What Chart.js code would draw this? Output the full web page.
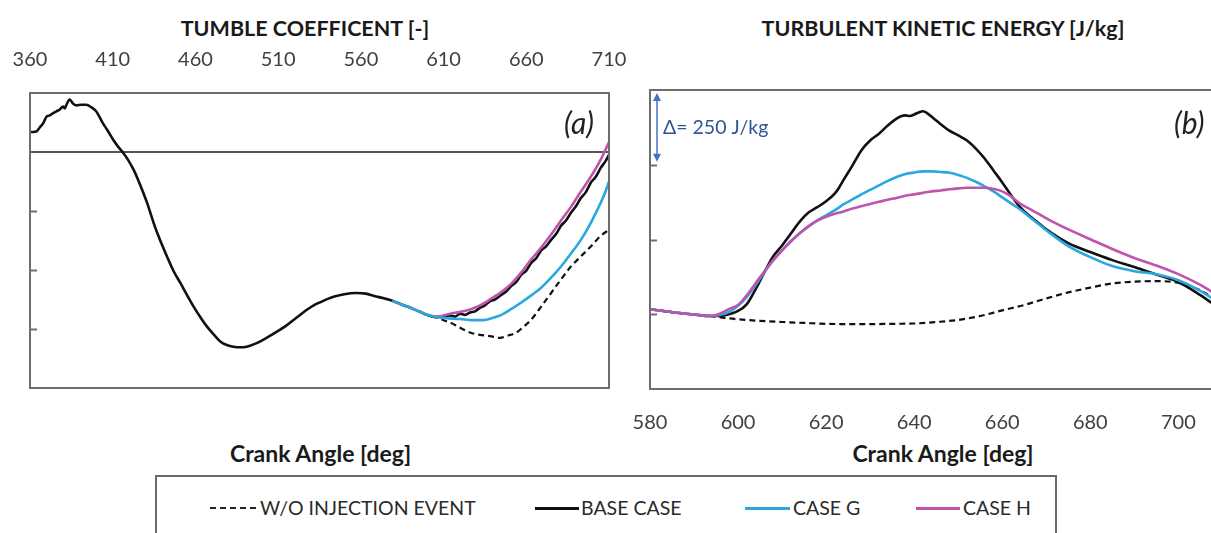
<!DOCTYPE html>
<html>
<head>
<meta charset="utf-8">
<script src="https://cdn.jsdelivr.net/npm/chart.js@4.4.0/dist/chart.umd.min.js"></script>
<style>
  body { margin: 0; width: 1211px; height: 533px; overflow: hidden; position: relative; background: #fff; font-family: Lato, "Open Sans", sans-serif; color: #1a1a1a; }
  .abs { position: absolute; white-space: nowrap; line-height: 26px; }
  .ttl { font-weight: bold; font-size: 21.5px; }
  .panel { position: absolute; top: 0; }
  #legend { position: absolute; left: 155px; top: 475px; width: 898px; height: 80px; border: 2px solid #6a6a6a; }
  .sw { position: absolute; top: 30px; height: 0; }
  .lt { position: absolute; top: 18px; font-size: 19.5px; color: #2a2a2a; line-height: 26px; }
</style>
</head>
<body>
<div class="abs ttl" style="left:0; width:610px; text-align:center; top:15px;">TUMBLE COEFFICENT [-]</div>
<div class="abs ttl" style="left:640px; width:606px; text-align:center; top:15px;">TURBULENT KINETIC ENERGY [J/kg]</div>
<div class="abs ttl" style="left:230px; top:440px; font-size:23px;">Crank Angle [deg]</div>
<div class="abs ttl" style="left:640px; width:606px; text-align:center; top:440px; font-size:23px;">Crank Angle [deg]</div>

<div class="panel" style="left:0;"><canvas id="chartA" width="640" height="400"></canvas></div>
<div class="panel" style="left:620px;"><canvas id="chartB" width="640" height="440"></canvas></div>

<div class="abs" style="left:564px; top:106px; font-size:30px; font-style:italic; line-height:32px; color:#222;">(a)</div>
<div class="abs" style="left:1174px; top:106px; font-size:30px; font-style:italic; line-height:32px; color:#222;">(b)</div>
<div class="abs" style="left:663px; top:114px; font-size:19.5px; color:#2f5597;">&Delta;= 250 J/kg</div>

<div id="legend">
  <div class="sw" style="left:53px; width:46px; border-top:2px dashed #222;"></div>
  <div class="lt" style="left:103px;">W/O INJECTION EVENT</div>
  <div class="sw" style="left:378px; width:44px; border-top:3px solid #111;"></div>
  <div class="lt" style="left:424px;">BASE CASE</div>
  <div class="sw" style="left:588px; width:45px; border-top:3px solid #29a8e0;"></div>
  <div class="lt" style="left:636px;">CASE G</div>
  <div class="sw" style="left:759px; width:44px; border-top:3px solid #c053ad;"></div>
  <div class="lt" style="left:806px;">CASE H</div>
</div>

<script>
// (a) tumble coefficient, top axis ticks
const tumbleTicks = [360, 410, 460, 510, 560, 610, 660, 710];

const tumbleBaseAngle = [360, 362, 364, 366, 368, 370, 372, 374, 376, 378, 380, 381, 382, 384, 385, 386, 388, 391, 394, 397, 400, 404, 407, 410, 413, 416.5, 419, 422.6, 425, 428.6, 431, 434.7, 438, 442.8, 447, 450.9, 455, 458.9, 463, 467, 471, 475, 479, 483, 487, 491, 497, 503, 509, 515.5, 521, 527.6, 532, 536, 540, 544, 550, 557, 563, 568, 574, 579, 585, 590, 595, 600, 606, 610, 614, 617, 620, 623, 626, 629, 632, 635, 638, 641, 645, 648, 651, 654, 657, 660, 663, 666, 669, 672, 675, 678, 681, 684, 687, 690, 693, 696, 699, 702, 705, 708, 710];
const tumbleBaseValue = [0.34, 0.34, 0.35, 0.42, 0.49, 0.60, 0.62, 0.66, 0.69, 0.72, 0.77, 0.74, 0.80, 0.89, 0.86, 0.82, 0.79, 0.80, 0.80, 0.76, 0.69, 0.49, 0.36, 0.22, 0.10, -0.02, -0.12, -0.30, -0.45, -0.70, -0.88, -1.20, -1.45, -1.77, -2.03, -2.22, -2.43, -2.62, -2.80, -2.96, -3.09, -3.21, -3.27, -3.30, -3.31, -3.30, -3.24, -3.15, -3.05, -2.93, -2.81, -2.67, -2.59, -2.54, -2.49, -2.45, -2.41, -2.39, -2.40, -2.44, -2.48, -2.52, -2.59, -2.64, -2.70, -2.76, -2.80, -2.78, -2.77, -2.79, -2.74, -2.76, -2.72, -2.70, -2.64, -2.60, -2.53, -2.50, -2.42, -2.36, -2.27, -2.20, -2.08, -2.01, -1.88, -1.80, -1.67, -1.60, -1.49, -1.39, -1.25, -1.16, -1.03, -0.92, -0.78, -0.68, -0.52, -0.42, -0.27, -0.15, -0.05];

const tumbleNoInjAngle = [603, 606, 610, 614, 620, 626, 632, 638, 644, 649, 654, 658, 663, 669, 675, 681, 687, 693, 699, 705, 710];
const tumbleNoInjValue = [-2.78, -2.80, -2.85, -2.89, -2.98, -3.06, -3.10, -3.12, -3.15, -3.11, -3.06, -2.97, -2.84, -2.62, -2.39, -2.16, -1.94, -1.77, -1.60, -1.42, -1.32];

const tumbleGAngle = [579, 585, 590, 595, 600, 606, 613, 620, 627, 634, 640, 645, 651, 657, 663, 669, 675, 681, 687, 693, 699, 705, 708, 710];
const tumbleGValue = [-2.52, -2.59, -2.64, -2.70, -2.76, -2.80, -2.82, -2.83, -2.85, -2.85, -2.81, -2.76, -2.66, -2.55, -2.43, -2.30, -2.13, -1.94, -1.72, -1.49, -1.20, -0.86, -0.66, -0.50];

const tumbleHAngle = [603, 606, 614, 620, 626, 632, 638, 645, 651, 657, 663, 669, 675, 681, 687, 693, 699, 705, 710];
const tumbleHValue = [-2.78, -2.79, -2.74, -2.71, -2.67, -2.60, -2.50, -2.37, -2.23, -2.04, -1.82, -1.62, -1.40, -1.16, -0.93, -0.67, -0.42, -0.13, 0.17];

// (b) turbulent kinetic energy [J/kg], bottom axis ticks
const tkeTicks = [580, 600, 620, 640, 660, 680, 700];

const tkeNoInjAngle = [580, 583, 586, 590, 594, 597, 600, 605, 610, 615, 620, 625, 630, 635, 640, 645, 650, 655, 660, 665, 670, 675, 680, 685, 690, 695, 700, 705, 710, 714];
const tkeNoInjValue = [267, 261, 255, 249, 244, 238, 233, 228, 224, 221, 218, 217, 217, 218, 219, 224, 231, 244, 263, 281, 303, 323, 339, 353, 359, 361, 355, 330, 285, 250];

const tkeBaseAngle = [580, 583, 586, 590, 594, 597, 600, 602, 604, 606, 608, 610, 612, 614, 616, 618, 620, 622, 623, 624, 626, 628, 630, 632, 634, 636, 637, 638, 639, 640, 641, 642, 643, 645, 648, 650, 652, 654, 656, 658, 660, 662, 664, 666, 668, 670, 675, 680, 685, 690, 695, 700, 705, 710, 714];
const tkeBaseValue = [267, 261, 255, 249, 244, 247, 261, 284, 334, 391, 444, 480, 520, 560, 590, 608, 628, 654, 675, 700, 748, 798, 831, 854, 881, 904, 912, 915, 913, 918, 925, 929, 922, 898, 864, 848, 831, 804, 771, 731, 691, 648, 609, 581, 558, 534, 488, 458, 431, 408, 383, 358, 314, 264, 230];

const tkeGAngle = [580, 583, 586, 590, 594, 596, 598, 600, 602, 604, 606, 608, 610, 612, 614, 616, 618, 620, 622, 624, 626, 628, 630, 632, 634, 636, 638, 640, 642, 644, 646, 648, 650, 652, 654, 656, 658, 660, 662, 664, 666, 668, 670, 675, 680, 685, 690, 695, 700, 705, 710, 714];
const tkeGValue = [267, 261, 255, 249, 244, 248, 258, 278, 308, 348, 391, 431, 464, 494, 521, 544, 564, 581, 598, 618, 634, 651, 666, 681, 696, 709, 719, 724, 728, 728, 726, 723, 716, 706, 693, 678, 661, 641, 621, 601, 578, 554, 531, 478, 441, 411, 394, 384, 364, 328, 281, 250];

const tkeHAngle = [580, 583, 586, 590, 594, 596, 598, 600, 602, 604, 606, 608, 610, 612, 614, 616, 618, 620, 622, 624, 626, 628, 630, 632, 634, 636, 638, 640, 642, 644, 646, 648, 650, 652, 654, 656, 658, 660, 662, 664, 666, 668, 670, 675, 680, 685, 690, 695, 700, 705, 710, 714];
const tkeHValue = [267, 261, 255, 249, 244, 253, 268, 281, 314, 354, 394, 431, 464, 494, 521, 544, 563, 576, 586, 594, 604, 611, 619, 626, 633, 639, 646, 651, 656, 661, 664, 668, 671, 673, 673, 673, 669, 661, 644, 621, 604, 588, 571, 534, 501, 468, 438, 413, 384, 348, 304, 275];

const pts = (xs, ys) => xs.map((x, i) => ({ x: x, y: ys[i] }));

// frame round the plot area, short inner ticks on the left side, optional delta arrow
const framePlugin = {
  id: 'frame',
  afterDatasetsDraw(chart, args, opts) {
    const ctx = chart.ctx;
    const a = chart.chartArea;
    const ys = chart.scales.y;
    ctx.save();
    ctx.strokeStyle = '#6e6e6e';
    ctx.lineWidth = 2;
    ctx.strokeRect(a.left, a.top, a.right - a.left, a.bottom - a.top);
    ctx.beginPath();
    opts.ticks.forEach(v => {
      const py = Math.round(ys.getPixelForValue(v)) + 0.5;
      ctx.moveTo(a.left, py);
      ctx.lineTo(a.left + 7, py);
    });
    ctx.stroke();
    if (opts.arrow) {
      const x = a.left + 7;
      const y1 = ys.getPixelForValue(opts.arrow[0]) + 3;
      const y2 = ys.getPixelForValue(opts.arrow[1]) - 3;
      ctx.strokeStyle = '#4472c4';
      ctx.fillStyle = '#4472c4';
      ctx.lineWidth = 1.5;
      ctx.beginPath();
      ctx.moveTo(x, y1 + 6);
      ctx.lineTo(x, y2 - 6);
      ctx.stroke();
      ctx.beginPath();
      ctx.moveTo(x, y1); ctx.lineTo(x - 4, y1 + 8); ctx.lineTo(x + 4, y1 + 8); ctx.closePath();
      ctx.moveTo(x, y2); ctx.lineTo(x - 4, y2 - 8); ctx.lineTo(x + 4, y2 - 8); ctx.closePath();
      ctx.fill();
    }
    ctx.restore();
  }
};

const tickFont = { family: 'Lato', size: 20 };

// keep the plot area where the frame is, whatever the width of the end labels
const noSidePad = s => { s.paddingLeft = 0; s.paddingRight = 0; };

function lineSet(label, data, color, order, dashed) {
  return {
    label: label,
    data: data,
    borderColor: color,
    borderWidth: dashed ? 2.2 : 2.6,
    borderDash: dashed ? [6, 4] : [],
    pointRadius: 0,
    cubicInterpolationMode: 'monotone',
    order: order
  };
}

new Chart(document.getElementById('chartA'), {
  type: 'line',
  data: {
    datasets: [
      lineSet('W/O INJECTION EVENT', pts(tumbleNoInjAngle, tumbleNoInjValue), '#111', 4, true),
      lineSet('BASE CASE', pts(tumbleBaseAngle, tumbleBaseValue), '#111', 3, false),
      lineSet('CASE H', pts(tumbleHAngle, tumbleHValue), '#c053ad', 2, false),
      lineSet('CASE G', pts(tumbleGAngle, tumbleGValue), '#29a8e0', 1, false)
    ]
  },
  options: {
    animation: false,
    responsive: false,
    layout: { padding: { left: 0, right: 31, top: 0, bottom: 12 } },
    plugins: {
      legend: { display: false },
      tooltip: { enabled: false },
      frame: { ticks: [-1, -2, -3] }
    },
    scales: {
      x: {
        type: 'linear', position: 'top', min: 360, max: 710,
        afterBuildTicks: s => { s.ticks = tumbleTicks.map(v => ({ value: v })); },
        ticks: { font: tickFont, color: '#404040', padding: 21, maxRotation: 0, autoSkip: false },
        grid: { display: false, drawTicks: false },
        border: { display: false },
        afterFit: s => { s.height = 93; noSidePad(s); }
      },
      y: {
        min: -4, max: 1,
        ticks: { display: false, stepSize: 1 },
        grid: { drawTicks: false, lineWidth: 2, color: c => c.tick && c.tick.value === 0 ? '#555' : 'rgba(0,0,0,0)' },
        border: { display: false },
        afterFit: s => { s.width = 30; }
      }
    }
  },
  plugins: [framePlugin]
});

new Chart(document.getElementById('chartB'), {
  type: 'line',
  data: {
    datasets: [
      lineSet('W/O INJECTION EVENT', pts(tkeNoInjAngle, tkeNoInjValue), '#111', 4, true),
      lineSet('BASE CASE', pts(tkeBaseAngle, tkeBaseValue), '#111', 3, false),
      lineSet('CASE G', pts(tkeGAngle, tkeGValue), '#29a8e0', 2, false),
      lineSet('CASE H', pts(tkeHAngle, tkeHValue), '#c053ad', 1, false)
    ]
  },
  options: {
    animation: false,
    responsive: false,
    layout: { padding: { left: 0, right: 20, top: 90, bottom: 0 } },
    plugins: {
      legend: { display: false },
      tooltip: { enabled: false },
      frame: { ticks: [250, 500, 750], arrow: [1000, 750] }
    },
    scales: {
      x: {
        type: 'linear', position: 'bottom', min: 580, max: 714,
        afterBuildTicks: s => { s.ticks = tkeTicks.map(v => ({ value: v })); },
        ticks: { font: tickFont, color: '#404040', padding: 22, maxRotation: 0, autoSkip: false },
        grid: { display: false, drawTicks: false },
        border: { display: false },
        afterFit: s => { s.height = 51; noSidePad(s); }
      },
      y: {
        min: 0, max: 1000,
        ticks: { display: false, stepSize: 250 },
        grid: { display: false, drawTicks: false },
        border: { display: false },
        afterFit: s => { s.width = 30; }
      }
    }
  },
  plugins: [framePlugin]
});
</script>
</body>
</html>
